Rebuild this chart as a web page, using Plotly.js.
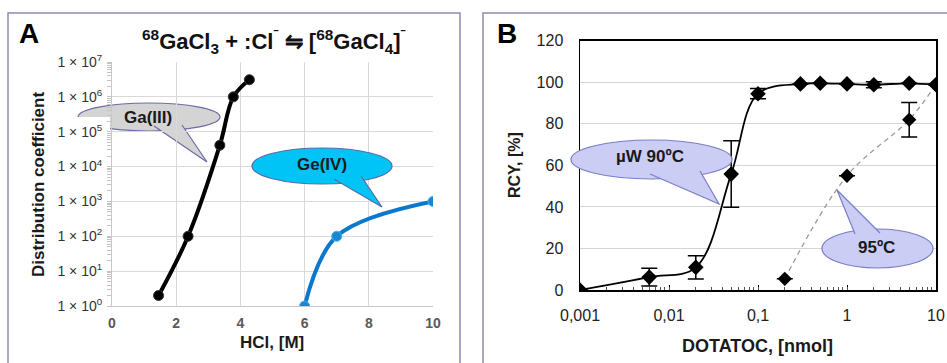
<!DOCTYPE html>
<html>
<head>
<meta charset="utf-8">
<script src="https://cdn.plot.ly/plotly-3.0.1.min.js"></script>
<style>html,body{margin:0;padding:0;background:#fff;}#chart{width:947px;height:363px;}</style>
</head>
<body>
<div id="chart"></div>
<script>
// ---- Panel A data ----
var gaHCl = [1.45, 2.37, 3.36, 3.78, 4.28];
var gaKd  = [2, 100, 4.1e4, 1.0e6, 3.1e6];
var geHCl = [6, 7, 10];
var geKd  = [1, 100, 1000];
var aYTickVals = [1, 10, 100, 1000, 1e4, 1e5, 1e6, 1e7];
var aYTickText = ['1 × 10<sup>0</sup>','1 × 10<sup>1</sup>','1 × 10<sup>2</sup>','1 × 10<sup>3</sup>','1 × 10<sup>4</sup>','1 × 10<sup>5</sup>','1 × 10<sup>6</sup>','1 × 10<sup>7</sup>'];

// ---- Panel B data ----
var mwDota = [0.001, 0.006, 0.02, 0.05, 0.1, 0.3, 0.5, 1, 2, 5, 10];
var mwRcy  = [0, 6.2, 10.9, 55.8, 94.5, 99.2, 99.5, 99.2, 98.8, 99.5, 98.8];
var mwErr  = [0, 4.3, 5.6, 16, 2.5, 0, 0, 0, 1.5, 0, 0];
var t95Dota = [0.2, 1, 5, 10];
var t95Rcy  = [5.4, 55, 82, 99];
var t95Err  = [0, 0, 8.3, 0];
var bXTickVals = [0.001, 0.01, 0.1, 1, 10];
var bXTickText = ['0,001', '0,01', '0,1', '1', '10'];

var W = 947, H = 363;
function X(p){ return p / W; }
function Y(p){ return 1 - p / H; }
var FONT = 'Liberation Sans, Arial, sans-serif';

var traces = [
  {x: gaHCl, y: gaKd, xaxis: 'x', yaxis: 'y', mode: 'lines+markers',
   line: {color: '#000', width: 4, shape: 'spline'},
   marker: {color: '#000', size: 10, line: {color: '#333', width: 1}}, hoverinfo: 'skip'},
  {x: geHCl, y: geKd, xaxis: 'x', yaxis: 'y', mode: 'lines+markers',
   line: {color: '#0a78cc', width: 4, shape: 'spline'},
   marker: {color: '#1a86d4', size: 10, line: {color: '#46b4ee', width: 1}}, hoverinfo: 'skip'},
  {x: t95Dota, y: t95Rcy, xaxis: 'x2', yaxis: 'y2', mode: 'lines+markers',
   line: {color: '#9a9a9a', width: 1.3, dash: '5px,4px', shape: 'spline'},
   marker: {color: '#000', size: 11, symbol: 'diamond'},
   error_y: {type: 'data', array: t95Err, visible: true, color: '#000', thickness: 1.5, width: 8}, hoverinfo: 'skip'},
  {x: mwDota, y: mwRcy, xaxis: 'x2', yaxis: 'y2', mode: 'lines+markers',
   line: {color: '#000', width: 1.8, shape: 'spline'},
   marker: {color: '#000', size: 12, symbol: 'diamond'},
   error_y: {type: 'data', array: mwErr, visible: true, color: '#000', thickness: 1.5, width: 8}, hoverinfo: 'skip'},
  // empty traces so the minor-tick overlay axes get drawn
  {x: [], y: [], xaxis: 'x', yaxis: 'y3', mode: 'markers', hoverinfo: 'skip'},
  {x: [], y: [], xaxis: 'x3', yaxis: 'y2', mode: 'markers', hoverinfo: 'skip'}
];

function callout(ex0, ey0, ex1, ey1, b1, apex, b2, fill, line, layer){
  return [
    {type: 'circle', xref: 'paper', yref: 'paper', x0: X(ex0), x1: X(ex1), y0: Y(ey1), y1: Y(ey0),
     fillcolor: fill, line: {color: line, width: 1.2}, layer: layer},
    {type: 'path', xref: 'paper', yref: 'paper',
     path: 'M' + X(b1[0]) + ',' + Y(b1[1]) + ' L' + X(apex[0]) + ',' + Y(apex[1]) + ' L' + X(b2[0]) + ',' + Y(b2[1]),
     fillcolor: fill, line: {color: line, width: 1.2}, layer: layer}
  ];
}

var shapes = [
  {type: 'rect', xref: 'paper', yref: 'paper', x0: X(8), x1: X(460), y0: Y(380), y1: Y(13), line: {color: '#8c8cb0', width: 1.5}, fillcolor: 'rgba(0,0,0,0)', layer: 'below'},
  {type: 'rect', xref: 'paper', yref: 'paper', x0: X(483), x1: X(960), y0: Y(380), y1: Y(13), line: {color: '#8c8cb0', width: 1.5}, fillcolor: 'rgba(0,0,0,0)', layer: 'below'}
];
shapes = shapes.concat(callout(78, 103, 220, 131, [154, 126], [207, 162], [182, 125], '#d4d4d4', '#6c6ca4', 'between'));
shapes.push({type: 'rect', xref: 'paper', yref: 'paper', x0: X(76), x1: X(110), y0: Y(134), y1: Y(117), fillcolor: '#fff', line: {width: 0}, layer: 'between'});
shapes = shapes.concat(callout(252, 148, 392, 184, [334, 179], [382, 207], [361, 176], '#00c4f6', '#5a6aa8', 'above'));
shapes = shapes.concat(callout(571, 140, 732, 179, [650, 174], [719, 204], [700, 171], '#cbcdf4', '#7a7ec4', 'above'));
shapes = shapes.concat(callout(822, 229, 933, 268, [855, 234], [837, 190], [880, 233], '#cbcdf4', '#7a7ec4', 'above'));

function txt(px, py, text, size, color, angle){
  return {xref: 'paper', yref: 'paper', x: X(px), y: Y(py), xanchor: 'center', yanchor: 'middle',
    text: text, showarrow: false, textangle: angle || 0, font: {family: FONT, size: size, color: color}};
}

var annotations = [
  txt(29, 33, '<b>A</b>', 28, '#000'),
  txt(507, 33, '<b>B</b>', 28, '#000'),
  txt(274, 41, '<b><sup>68</sup>GaCl<sub>3</sub> + :Cl<sup>ˉ</sup> ⇋ [<sup>68</sup>GaCl<sub>4</sub>]<sup>ˉ</sup></b>', 22, '#111'),
  txt(148, 117, '<b>Ga(III)</b>', 17, '#1a1a1a'),
  txt(322, 164, '<b>Ge(IV)</b>', 17, '#1a1a1a'),
  txt(650, 156, '<b>µW 90ºC</b>', 17, '#1a1a1a'),
  txt(876, 247, '<b>95ºC</b>', 17, '#1a1a1a'),
  txt(38, 185, '<b>Distribution coefficient</b>', 17, '#1a1a1a', -90),
  txt(272, 342, '<b>HCl, [M]</b>', 17, '#1a1a1a'),
  txt(514, 165, '<b>RCY, [%]</b>', 16, '#1a1a1a', -90),
  txt(757, 346, '<b>DOTATOC, [nmol]</b>', 18, '#1a1a1a')
];

var layout = {
  width: W, height: H,
  margin: {l: 0, r: 0, t: 0, b: 0},
  paper_bgcolor: '#fff', plot_bgcolor: '#fff',
  showlegend: false,
  xaxis: {domain: [X(112), X(433)], range: [0, 10], dtick: 2, tick0: 0, anchor: 'y',
    showgrid: true, gridcolor: '#d9d9d9', zeroline: false, showline: true, linecolor: '#c8c8c8',
    ticks: '', ticklabelstandoff: 4, tickfont: {family: FONT, size: 14, color: '#5a5a5a', weight: 'bold'}},
  yaxis: {domain: [Y(306), Y(62)], type: 'log', range: [0, 7], anchor: 'x',
    tickmode: 'array', tickvals: aYTickVals, ticktext: aYTickText,
    showgrid: true, gridcolor: '#d9d9d9', zeroline: false, showline: true, linecolor: '#c8c8c8',
    ticks: '', ticklabelstandoff: 6, tickfont: {family: FONT, size: 14, color: '#333'}},
  yaxis3: {overlaying: 'y', anchor: 'x', side: 'left', type: 'log', range: [0, 7], dtick: 'D1',
    showgrid: false, zeroline: false, showline: false, showticklabels: false,
    ticks: 'outside', ticklen: 4, tickcolor: '#c4c4c4', tickwidth: 1},
  xaxis2: {domain: [X(580), X(936)], type: 'log', range: [-3, 1], anchor: 'y2',
    tickmode: 'array', tickvals: bXTickVals, ticktext: bXTickText,
    showgrid: false, zeroline: false, showline: true, mirror: true, linecolor: '#000', linewidth: 1.5,
    ticks: 'inside', ticklen: 5, tickcolor: '#000', ticklabelstandoff: 10,
    tickfont: {family: FONT, size: 16, color: '#222'}},
  xaxis3: {overlaying: 'x2', anchor: 'y2', side: 'bottom', type: 'log', range: [-3, 1], dtick: 'D1',
    showgrid: false, zeroline: false, showline: false, showticklabels: false,
    ticks: 'inside', ticklen: 3, tickcolor: '#555', tickwidth: 1},
  yaxis2: {domain: [Y(290), Y(40.7)], range: [0, 120], dtick: 20, anchor: 'x2',
    showgrid: true, gridcolor: '#d4d4d4', zeroline: false, showline: true, mirror: true, linecolor: '#000', linewidth: 1.5,
    ticks: '', ticklabelstandoff: 12, tickfont: {family: FONT, size: 16, color: '#222'}},
  shapes: shapes,
  annotations: annotations
};

Plotly.newPlot('chart', traces, layout, {staticPlot: true, displayModeBar: false});
</script>
</body>
</html>
